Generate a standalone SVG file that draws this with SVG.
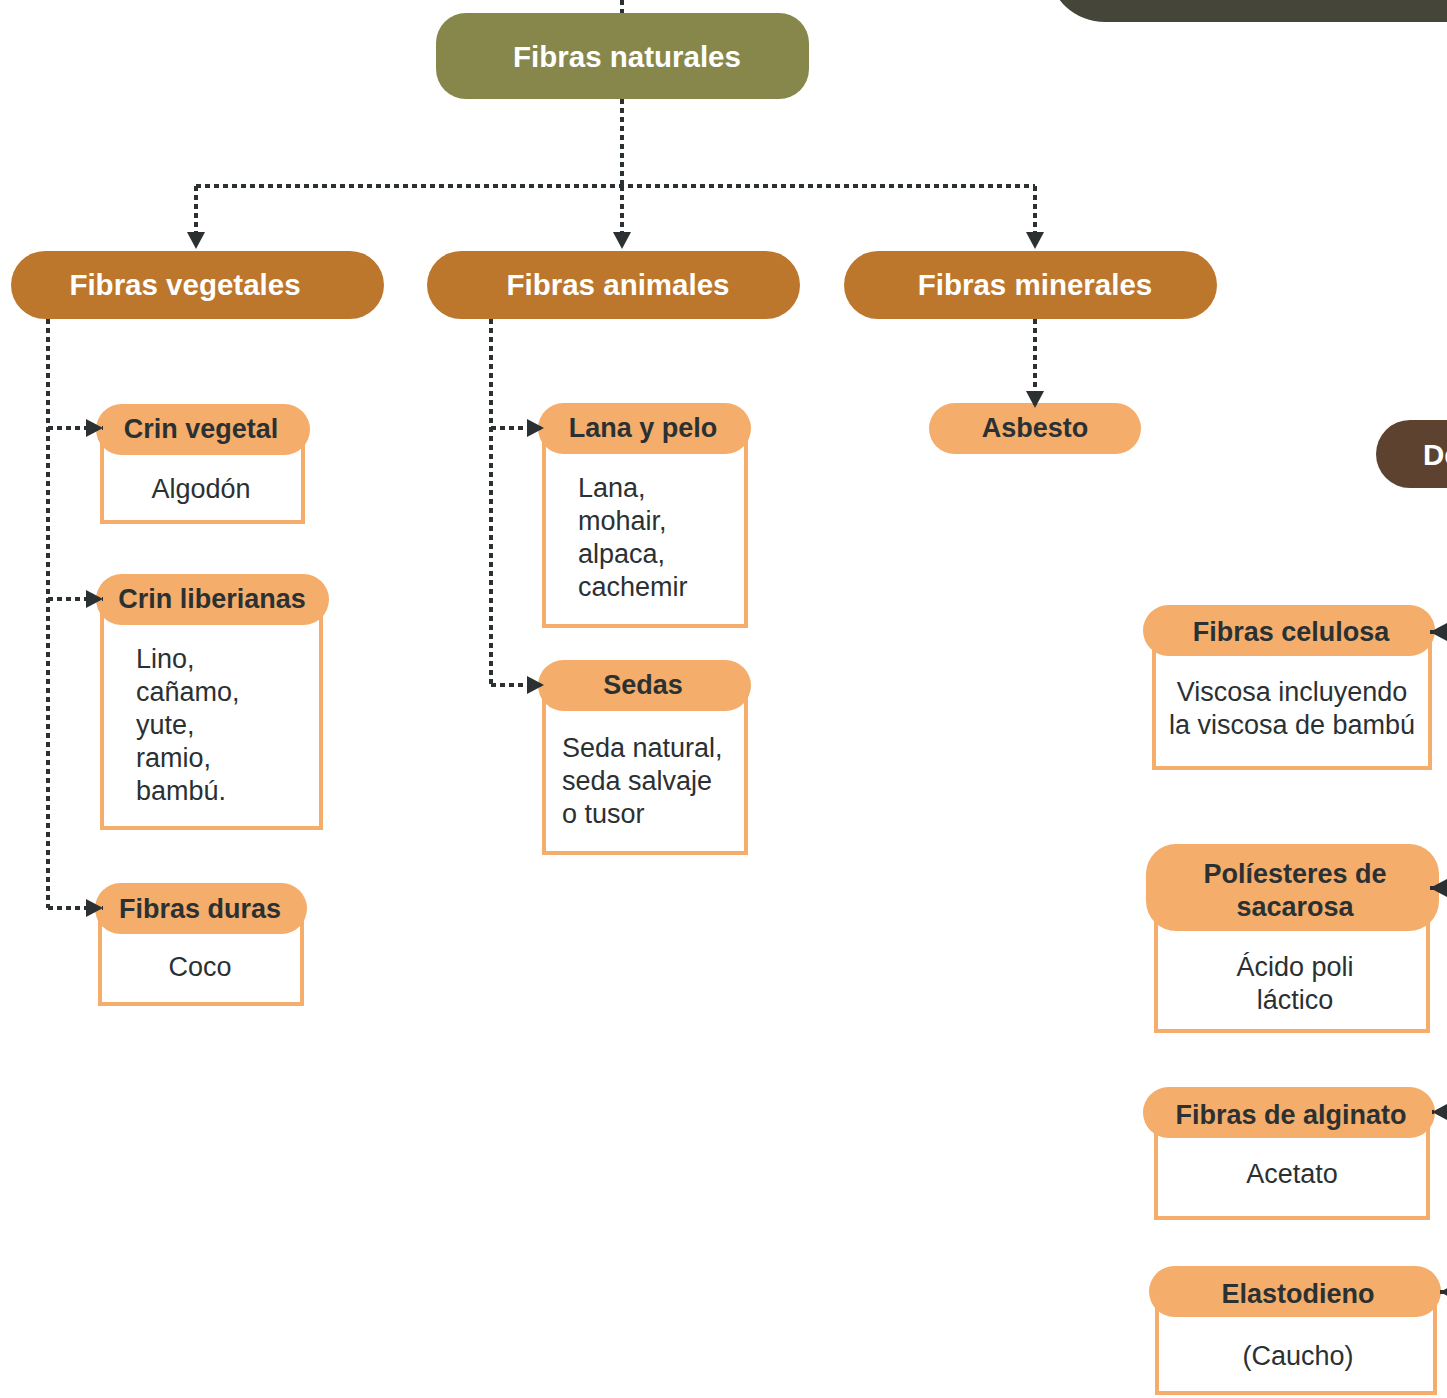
<svg xmlns="http://www.w3.org/2000/svg" width="1447" height="1398" viewBox="0 0 1447 1398">
<defs>
<marker id="arr" markerUnits="userSpaceOnUse" markerWidth="18" markerHeight="18" refX="17" refY="9" orient="auto">
<path d="M0,0 L17,9 L0,18 z" fill="#2b3133"/>
</marker>
<style>
.dot{fill:none;stroke:#2b3133;stroke-width:4;stroke-dasharray:5 4;}
.l1{fill:#87874c;}
.l2{fill:#bd772d;}
.pill{fill:#f4ad6a;}
.box{fill:#fff;stroke:#f4ad6a;stroke-width:4;}
.tw{font-family:"Liberation Sans",Arial,sans-serif;font-weight:bold;font-size:29.5px;fill:#fff;text-anchor:middle;}
.tb{font-family:"Liberation Sans",Arial,sans-serif;font-weight:bold;font-size:27px;fill:#2b3133;text-anchor:middle;}
.tr{font-family:"Liberation Sans",Arial,sans-serif;font-size:27px;fill:#2b3133;}
.c{text-anchor:middle;}
</style>
</defs>
<rect width="1447" height="1398" fill="#fff"/>

<g id="top-dark">
<rect x="1050" y="-80" width="520" height="102" rx="55" fill="#46453a"/>
</g>

<g id="fibras-naturales">
<rect class="l1" x="436" y="13" width="373" height="86" rx="30"/>
<text class="tw" x="627" y="67">Fibras naturales</text>
</g>

<g id="fibras-vegetales">
<rect class="l2" x="11" y="251" width="373" height="68" rx="34"/>
<text class="tw" x="185" y="295">Fibras vegetales</text>
</g>
<g id="fibras-animales">
<rect class="l2" x="427" y="251" width="373" height="68" rx="34"/>
<text class="tw" x="618" y="295">Fibras animales</text>
</g>
<g id="fibras-minerales">
<rect class="l2" x="844" y="251" width="373" height="68" rx="34"/>
<text class="tw" x="1035" y="295">Fibras minerales</text>
</g>

<g id="de-node">
<rect x="1376" y="420" width="200" height="68" rx="34" fill="#5e4230"/>
<text class="tw" x="1423" y="465" style="text-anchor:start">De</text>
</g>

<g id="crin-vegetal">
<rect class="box" x="102" y="430" width="201" height="92"/>
<rect class="pill" x="96" y="404" width="214" height="51" rx="25.5"/>
<text class="tb" x="201" y="438">Crin vegetal</text>
<text class="tr c" x="201" y="498">Algodón</text>
</g>

<g id="crin-liberianas">
<rect class="box" x="102" y="600" width="219" height="228"/>
<rect class="pill" x="96" y="574" width="233" height="51" rx="25.5"/>
<text class="tb" x="212" y="608">Crin liberianas</text>
<text class="tr" x="136" y="668">Lino,</text>
<text class="tr" x="136" y="701">cañamo,</text>
<text class="tr" x="136" y="734">yute,</text>
<text class="tr" x="136" y="767">ramio,</text>
<text class="tr" x="136" y="800">bambú.</text>
</g>

<g id="fibras-duras">
<rect class="box" x="100" y="908" width="202" height="96"/>
<rect class="pill" x="95" y="883" width="212" height="51" rx="25.5"/>
<text class="tb" x="200" y="918">Fibras duras</text>
<text class="tr c" x="200" y="976">Coco</text>
</g>

<g id="lana-y-pelo">
<rect class="box" x="544" y="428" width="202" height="198"/>
<rect class="pill" x="538" y="403" width="213" height="51" rx="25.5"/>
<text class="tb" x="643" y="437">Lana y pelo</text>
<text class="tr" x="578" y="497">Lana,</text>
<text class="tr" x="578" y="530">mohair,</text>
<text class="tr" x="578" y="563">alpaca,</text>
<text class="tr" x="578" y="596">cachemir</text>
</g>

<g id="sedas">
<rect class="box" x="544" y="685" width="202" height="168"/>
<rect class="pill" x="538" y="660" width="213" height="51" rx="25.5"/>
<text class="tb" x="643" y="694">Sedas</text>
<text class="tr" x="562" y="757">Seda natural,</text>
<text class="tr" x="562" y="790">seda salvaje</text>
<text class="tr" x="562" y="823">o tusor</text>
</g>

<g id="asbesto">
<rect class="pill" x="929" y="403" width="212" height="51" rx="25.5"/>
<text class="tb" x="1035" y="437">Asbesto</text>
</g>

<g id="fibras-celulosa">
<rect class="box" x="1154" y="630" width="276" height="138"/>
<rect class="pill" x="1143" y="605" width="292" height="51" rx="25.5"/>
<text class="tb" x="1291" y="641">Fibras celulosa</text>
<text class="tr c" x="1292" y="701">Viscosa incluyendo</text>
<text class="tr c" x="1292" y="734">la viscosa de bambú</text>
</g>

<g id="poliesteres">
<rect class="box" x="1156" y="890" width="272" height="141"/>
<rect class="pill" x="1146" y="844" width="293" height="87" rx="30"/>
<text class="tb" x="1295" y="883">Políesteres de</text>
<text class="tb" x="1295" y="916">sacarosa</text>
<text class="tr c" x="1295" y="976">Ácido poli</text>
<text class="tr c" x="1295" y="1009">láctico</text>
</g>

<g id="alginato">
<rect class="box" x="1156" y="1112" width="272" height="106"/>
<rect class="pill" x="1143" y="1087" width="292" height="51" rx="25.5"/>
<text class="tb" x="1291" y="1124">Fibras de alginato</text>
<text class="tr c" x="1292" y="1183">Acetato</text>
</g>

<g id="elastodieno">
<rect class="box" x="1157" y="1292" width="278" height="101"/>
<rect class="pill" x="1149" y="1266" width="292" height="51" rx="25.5"/>
<text class="tb" x="1298" y="1303">Elastodieno</text>
<text class="tr c" x="1298" y="1365">(Caucho)</text>
</g>

<g id="connectors">
<path class="dot" d="M622,0 L622,13"/>
<path class="dot" d="M622,99 L622,186"/>
<path class="dot" d="M196,186 L1035,186"/>
<path class="dot" d="M196,186 L196,249" marker-end="url(#arr)"/>
<path class="dot" d="M622,186 L622,249" marker-end="url(#arr)"/>
<path class="dot" d="M1035,186 L1035,249" marker-end="url(#arr)"/>
<path class="dot" d="M48,319 L48,908"/>
<path class="dot" d="M48,428 L103,428" marker-end="url(#arr)"/>
<path class="dot" d="M48,599 L103,599" marker-end="url(#arr)"/>
<path class="dot" d="M48,908 L103,908" marker-end="url(#arr)"/>
<path class="dot" d="M491,319 L491,685"/>
<path class="dot" d="M491,428 L544,428" marker-end="url(#arr)"/>
<path class="dot" d="M491,685 L544,685" marker-end="url(#arr)"/>
<path class="dot" d="M1035,319 L1035,408" marker-end="url(#arr)"/>
<path class="dot" d="M1470,632 L1430,632" marker-end="url(#arr)"/>
<path class="dot" d="M1470,888 L1430,888" marker-end="url(#arr)"/>
<path class="dot" d="M1470,1112 L1432,1112" marker-end="url(#arr)"/>
<path class="dot" d="M1480,1292 L1440,1292" marker-end="url(#arr)"/>
</g>
</svg>
